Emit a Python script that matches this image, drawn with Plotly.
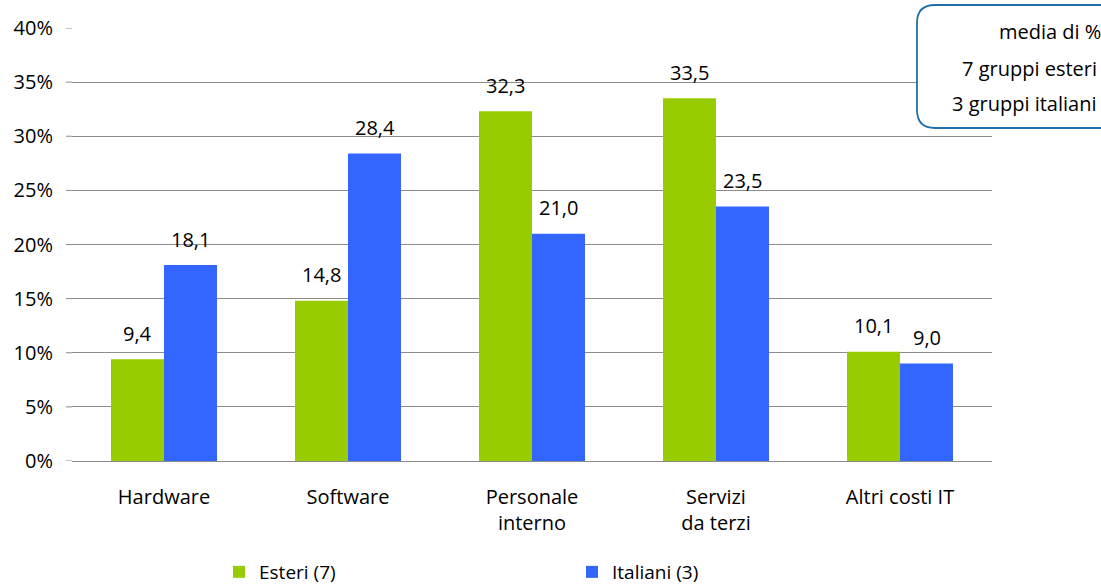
import plotly.graph_objects as go

categories = ["Hardware", "Software", "Personale<br>interno", "Servizi<br>da terzi", "Altri costi IT"]
esteri = [9.4, 14.8, 32.3, 33.5, 10.1]
italiani = [18.1, 28.4, 21.0, 23.5, 9.0]
series_names = ["Esteri (7)", "Italiani (3)"]
box_lines = ["media di %", "7 gruppi esteri", "3 gruppi italiani"]

W, H = 1101, 586
L, R, T, B = 72, 109, 28, 125
pw, ph = W - L - R, H - T - B
FONT = "Open Sans, Noto Sans, sans-serif"
FS = 20


def px(x):
    return (x - L) / pw


def py(y):
    return (H - B - y) / ph


fig = go.Figure()
for name, vals, color, shift in [
    (series_names[0], esteri, "#99CC00", -26.5),
    (series_names[1], italiani, "#3366FF", 26.5),
]:
    fig.add_trace(
        go.Bar(
            x=categories,
            y=vals,
            name=name,
            marker=dict(color=color, line=dict(width=0)),
        )
    )
    # value labels sit well above the bars, as in the original
    for cat, v in zip(categories, vals):
        fig.add_annotation(
            x=cat, y=v, text=f"{v:.1f}".replace(".", ","), showarrow=False,
            xshift=shift, yshift=26, yanchor="middle",
            font=dict(size=FS, color="#000000"),
        )

# gridlines in the original start a little left of the category area
for t in range(0, 41, 5):
    fig.add_shape(type="line", xref="paper", yref="y", x0=px(66), x1=0, y0=t, y1=t,
                  line=dict(color="#8C8C8C", width=1), layer="below")

# rounded note box, running off the right edge
x0, x1, y0, y1, r = 917, 1130, 5, 128, 18
rx, ry = r / pw, r / ph
X0, X1, Y0, Y1 = px(x0), px(x1), py(y0), py(y1)
path = (
    f"M {X0 + rx},{Y0} L {X1},{Y0} L {X1},{Y1} L {X0 + rx},{Y1} "
    f"Q {X0},{Y1} {X0},{Y1 + ry} L {X0},{Y0 - ry} Q {X0},{Y0} {X0 + rx},{Y0} Z"
)
fig.add_shape(type="path", path=path, xref="paper", yref="paper",
              line=dict(color="#1F6FA8", width=1.8), fillcolor="white", layer="above")
for line, lx, ly in zip(box_lines, [997, 960, 950], [32, 68, 104]):
    fig.add_annotation(
        x=px(lx), y=py(ly), xref="paper", yref="paper", text=line,
        showarrow=False, xanchor="left", yanchor="middle",
        font=dict(size=FS, color="#000000"),
    )

fig.update_layout(
    width=W,
    height=H,
    margin=dict(l=L, r=R, t=T, b=B, autoexpand=False),
    paper_bgcolor="white",
    plot_bgcolor="white",
    font=dict(family=FONT, size=FS, color="#000000"),
    barmode="group",
    bargap=0.424,
    bargroupgap=0,
    showlegend=True,
    legend=dict(
        orientation="h", x=219 / W, y=(H - 572) / H, xref="container", yref="container",
        xanchor="left", yanchor="middle",
        entrywidth=308, entrywidthmode="pixels", font=dict(size=19),
        traceorder="normal",
    ),
    xaxis=dict(showgrid=False, showline=True, linecolor="#8C8C8C", linewidth=1,
               ticks="", ticklabelstandoff=18, tickfont=dict(size=FS)),
    yaxis=dict(range=[0, 40], dtick=5, ticksuffix="%", showgrid=True,
               gridcolor="#8C8C8C", gridwidth=1, zeroline=False, showline=False,
               ticks="", ticklabelstandoff=18, tickfont=dict(size=FS)),
)

fig.write_html("out.html", config={"displayModeBar": False},
               post_script="document.body.style.margin='0';")
